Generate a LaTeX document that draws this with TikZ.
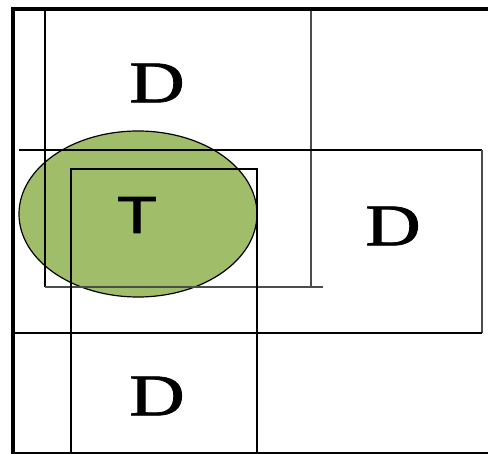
\documentclass[tikz,border=0pt]{standalone}
\usepackage{fontspec}
\setmainfont{Liberation Serif}
\newfontfamily\dfont[FakeBold=1.2]{Liberation Serif}
\newfontfamily\arialfont[FakeBold=1.6]{Liberation Sans}
\usetikzlibrary{shapes.geometric}
\definecolor{leafgreen}{RGB}{160,190,106}
\begin{document}
\begin{tikzpicture}[x=1pt,y=-1pt,
  thin line/.style={draw=black,line width=1.2pt},
  gray line/.style={draw=black!70,line width=1.2pt},
  thick frame/.style={draw=black,line width=4.5pt},
  dlabel/.style={font=\dfont\fontsize{59}{59}\selectfont,inner sep=0pt,xscale=1.3},
  tlabel/.style={font=\arialfont\fontsize{52}{52}\selectfont,inner sep=0pt,xscale=1.25}]
\useasboundingbox (0,0) rectangle (488,454);
% green ellipse
\filldraw[fill=leafgreen,draw=black,line width=1.2pt] (138,214) ellipse [x radius=119, y radius=83];
% box 1 (top D)
\draw[thin line] (45,9) -- (45,287);
\draw[gray line] (311,9) -- (311,287);
\draw[gray line] (45,287) -- (323,287);
% box 2 (right D)
\draw[thin line] (19,150) -- (482,150);
\draw[gray line] (482,150) -- (482,333);
\draw[thin line] (15,333) -- (482,333);
% box 3 (T box)
\draw[thin line] (71,454) -- (71,169) -- (257,169) -- (257,454);
% bottom line
\draw[thin line] (13,453) -- (488,453);
% thick frame
\draw[thick frame] (13,454) -- (13,9) -- (488,9);
% labels
\node[dlabel] (d1) at (157,83) {D};
\node[dlabel] (d2) at (393,226) {D};
\node[dlabel] (d3) at (157,396) {D};
\node[tlabel] (t) at (137,215) {T};
\end{tikzpicture}
\end{document}
